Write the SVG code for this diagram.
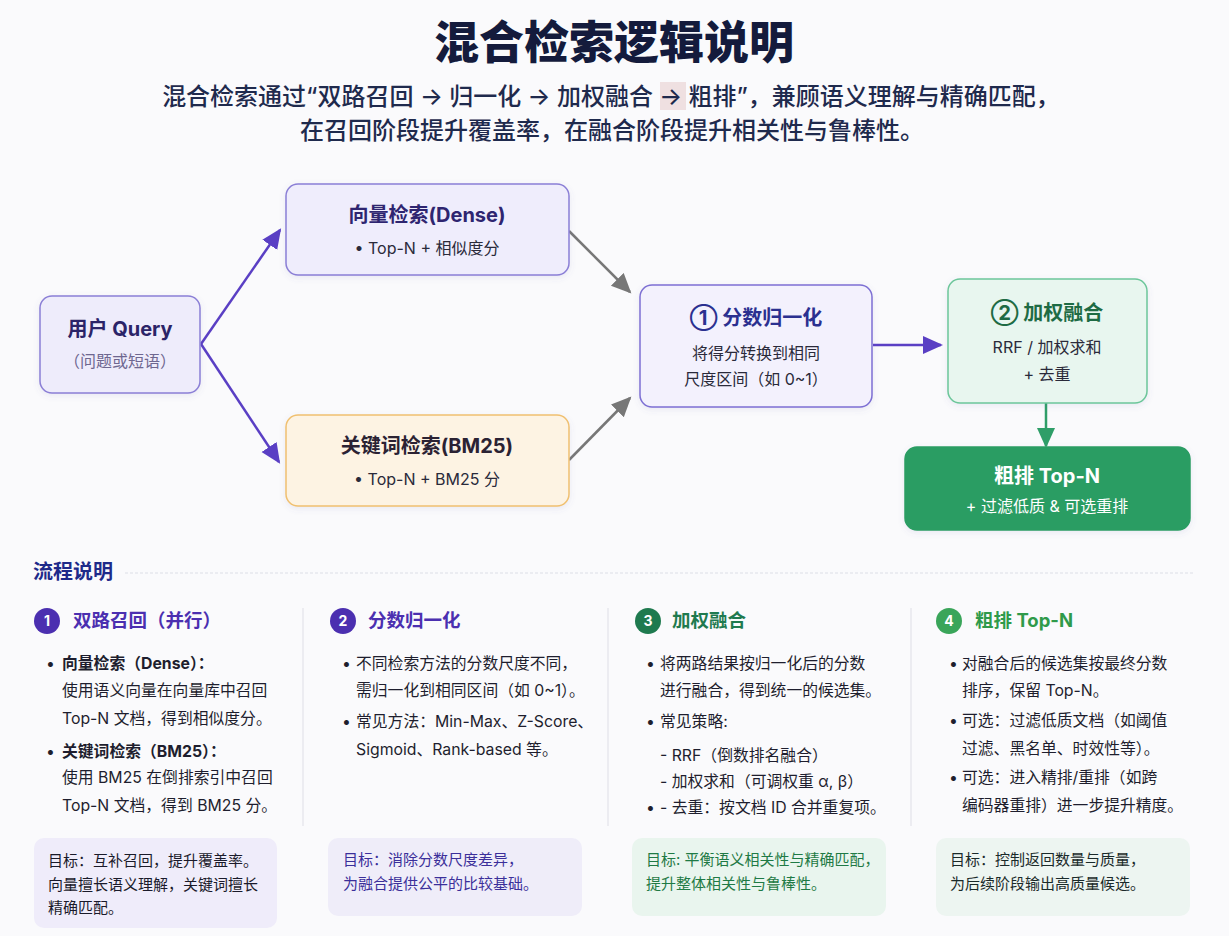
<svg xmlns="http://www.w3.org/2000/svg" width="1229" height="936" viewBox="0 0 1229 936">
<defs>
<style>
text{font-family:Inter,"Noto Sans CJK SC",sans-serif;}
.title{font-size:45px;font-weight:900;fill:#141b3c;}
.sub{font-size:24px;font-weight:500;fill:#1f2a4d;}
.nt{font-size:20px;font-weight:700;}
.nb{font-size:16px;fill:#2a2a3a;}
.sec{font-size:20px;font-weight:700;fill:#1e2a8a;}
.ch{font-size:18.5px;font-weight:700;}
.cn{font-size:14px;font-weight:700;fill:#fff;}
.bt{font-size:15.8px;fill:#1e1e2e;}
.bb{font-weight:700;}
.gt{font-size:15px;}
.node rect{stroke-width:1.5;}
.ar{fill:none;stroke-width:2.5;}
</style>
<filter id="sh" x="-10%" y="-10%" width="120%" height="130%">
<feDropShadow dx="0" dy="2" stdDeviation="3" flood-color="#6a5fb0" flood-opacity="0.12"/>
</filter>
<marker id="mp" markerUnits="userSpaceOnUse" markerWidth="22" markerHeight="20" refX="18" refY="9" orient="auto"><path d="M0,0 L20,9 L0,18 z" fill="#5a3fc4"/></marker>
<marker id="mg" markerUnits="userSpaceOnUse" markerWidth="22" markerHeight="20" refX="18" refY="9" orient="auto"><path d="M0,0 L20,9 L0,18 z" fill="#777"/></marker>
<marker id="mgr" markerUnits="userSpaceOnUse" markerWidth="22" markerHeight="20" refX="18" refY="9" orient="auto"><path d="M0,0 L20,9 L0,18 z" fill="#2f9e68"/></marker>
</defs>
<rect width="1229" height="936" fill="#fafafc"/>

<text class="title" x="614" y="59" text-anchor="middle">混合检索逻辑说明</text>
<rect x="660" y="82" width="26" height="28" fill="#ecdada" opacity="0.8"/>
<text class="sub" x="611" y="105" text-anchor="middle">混合检索通过“双路召回 → 归一化 → 加权融合 → 粗排”，兼顾语义理解与精确匹配，</text>
<text class="sub" x="612" y="139" text-anchor="middle">在召回阶段提升覆盖率，在融合阶段提升相关性与鲁棒性。</text>

<g id="connectors">
<line class="ar" x1="201" y1="344" x2="280" y2="230" stroke="#5a3fc4" marker-end="url(#mp)"/>
<line class="ar" x1="201" y1="344" x2="279" y2="462" stroke="#5a3fc4" marker-end="url(#mp)"/>
<line class="ar" x1="569" y1="231" x2="630" y2="292" stroke="#777" marker-end="url(#mg)"/>
<line class="ar" x1="569" y1="460" x2="630" y2="398" stroke="#777" marker-end="url(#mg)"/>
<line class="ar" x1="873" y1="345" x2="941" y2="345" stroke="#5a3fc4" marker-end="url(#mp)"/>
<line class="ar" x1="1046" y1="403" x2="1046" y2="446" stroke="#2f9e68" marker-end="url(#mgr)"/>
</g>

<g id="query" class="node">
<rect x="40" y="296" width="160" height="97" rx="12" fill="#eeecfb" stroke="#8b7fd6" filter="url(#sh)"/>
<text class="nt" x="120" y="336" text-anchor="middle" fill="#2b2468">用户 Query</text>
<text class="nb" x="120" y="367" text-anchor="middle" style="fill:#6e6790">（问题或短语）</text>
</g>

<g id="dense" class="node">
<rect x="286" y="184" width="283" height="91" rx="12" fill="#efedfc" stroke="#8b7fd6" filter="url(#sh)"/>
<text class="nt" x="427" y="222" text-anchor="middle" fill="#2e2570">向量检索(Dense)</text>
<text class="nb" x="427" y="254" text-anchor="middle">• Top-N + 相似度分</text>
</g>

<g id="bm25" class="node">
<rect x="286" y="415" width="283" height="91" rx="12" fill="#fdf3e3" stroke="#f0c070" filter="url(#sh)"/>
<text class="nt" x="427" y="453" text-anchor="middle" fill="#2b2233">关键词检索(BM25)</text>
<text class="nb" x="427" y="485" text-anchor="middle">• Top-N + BM25 分</text>
</g>

<g id="normalize" class="node">
<rect x="640" y="285" width="232" height="122" rx="12" fill="#f3f1fd" stroke="#7d6fd3" filter="url(#sh)"/>
<text class="nt" x="756" y="325" text-anchor="middle" fill="#2b3090">① 分数归一化</text>
<text class="nb" x="756" y="359" text-anchor="middle">将得分转换到相同</text>
<text class="nb" x="756" y="385" text-anchor="middle">尺度区间（如 0~1）</text>
</g>

<g id="fusion" class="node">
<rect x="948" y="279" width="199" height="124" rx="12" fill="#e8f6ef" stroke="#6cc69a" filter="url(#sh)"/>
<text class="nt" x="1047" y="320" text-anchor="middle" fill="#1e6b44">② 加权融合</text>
<text class="nb" x="1047" y="353" text-anchor="middle">RRF / 加权求和</text>
<text class="nb" x="1047" y="380" text-anchor="middle">+ 去重</text>
</g>

<g id="topn" class="node">
<rect x="905" y="447" width="285" height="83" rx="12" fill="#2a9d63" stroke="#2a9d63" filter="url(#sh)"/>
<text class="nt" x="1047" y="483" text-anchor="middle" fill="#fff">粗排 Top-N</text>
<text class="nb" x="1047" y="512" text-anchor="middle" style="fill:#fff">+ 过滤低质 &amp; 可选重排</text>
</g>

<g id="section-header">
<text class="sec" x="33" y="579">流程说明</text>
<line x1="125" y1="573" x2="1193" y2="573" stroke="#dcdde5" stroke-width="1.2" stroke-dasharray="3 2"/>
<line x1="303" y1="608" x2="303" y2="826" stroke="#e3e3ea" stroke-width="1.2"/>
<line x1="608" y1="608" x2="608" y2="826" stroke="#e3e3ea" stroke-width="1.2"/>
<line x1="911" y1="608" x2="911" y2="826" stroke="#e3e3ea" stroke-width="1.2"/>
</g>

<g id="col1">
<circle cx="47" cy="621" r="13" fill="#4b2fb0"/>
<text class="cn" x="47" y="626" text-anchor="middle">1</text>
<text class="ch" x="73" y="627" fill="#4b2fb0">双路召回（并行）</text>
<text class="bt" x="46" y="669">•</text>
<text class="bt bb" x="62" y="669">向量检索（Dense）：</text>
<text class="bt" x="62" y="696">使用语义向量在向量库中召回</text>
<text class="bt" x="62" y="724">Top-N 文档，得到相似度分。</text>
<text class="bt" x="46" y="757">•</text>
<text class="bt bb" x="62" y="757">关键词检索（BM25）：</text>
<text class="bt" x="62" y="783">使用 BM25 在倒排索引中召回</text>
<text class="bt" x="62" y="811">Top-N 文档，得到 BM25 分。</text>
<rect x="34" y="838" width="243" height="90" rx="10" fill="#efecfa"/>
<text class="gt" x="48" y="866" fill="#1a1a2a">目标：互补召回，提升覆盖率。</text>
<text class="gt" x="48" y="890" fill="#1a1a2a">向量擅长语义理解，关键词擅长</text>
<text class="gt" x="48" y="913" fill="#1a1a2a">精确匹配。</text>
</g>

<g id="col2">
<circle cx="343" cy="621" r="13" fill="#4b2fb0"/>
<text class="cn" x="343" y="626" text-anchor="middle">2</text>
<text class="ch" x="368" y="627" fill="#4b2fb0">分数归一化</text>
<text class="bt" x="342" y="669">•</text>
<text class="bt" x="356" y="669">不同检索方法的分数尺度不同，</text>
<text class="bt" x="356" y="696">需归一化到相同区间（如 0~1）。</text>
<text class="bt" x="342" y="727">•</text>
<text class="bt" x="356" y="727">常见方法：Min-Max、Z-Score、</text>
<text class="bt" x="356" y="755">Sigmoid、Rank-based 等。</text>
<rect x="328" y="838" width="254" height="78" rx="10" fill="#efedf9"/>
<text class="gt" x="343" y="865" fill="#3b2f9a">目标：消除分数尺度差异，</text>
<text class="gt" x="343" y="889" fill="#3b2f9a">为融合提供公平的比较基础。</text>
</g>

<g id="col3">
<circle cx="648" cy="621" r="13" fill="#1f7a4f"/>
<text class="cn" x="648" y="626" text-anchor="middle">3</text>
<text class="ch" x="672" y="627" fill="#1f7a4f">加权融合</text>
<text class="bt" x="646" y="669">•</text>
<text class="bt" x="660" y="669">将两路结果按归一化后的分数</text>
<text class="bt" x="660" y="696">进行融合，得到统一的候选集。</text>
<text class="bt" x="646" y="727">•</text>
<text class="bt" x="660" y="727">常见策略:</text>
<text class="bt" x="660" y="761">- RRF（倒数排名融合）</text>
<text class="bt" x="660" y="787">- 加权求和（可调权重 α, β）</text>
<text class="bt" x="646" y="813">•</text>
<text class="bt" x="660" y="813">- 去重：按文档 ID 合并重复项。</text>
<rect x="632" y="838" width="254" height="78" rx="10" fill="#e9f5ee"/>
<text class="gt" x="646" y="865" fill="#1f7a45">目标: 平衡语义相关性与精确匹配，</text>
<text class="gt" x="646" y="889" fill="#1f7a45">提升整体相关性与鲁棒性。</text>
</g>

<g id="col4">
<circle cx="949" cy="621" r="13" fill="#3aa55a"/>
<text class="cn" x="949" y="626" text-anchor="middle">4</text>
<text class="ch" x="975" y="627" fill="#2f9a4a">粗排 Top-N</text>
<text class="bt" x="949" y="669">•</text>
<text class="bt" x="962" y="669">对融合后的候选集按最终分数</text>
<text class="bt" x="962" y="696">排序，保留 Top-N。</text>
<text class="bt" x="949" y="726">•</text>
<text class="bt" x="962" y="726">可选：过滤低质文档（如阈值</text>
<text class="bt" x="962" y="754">过滤、黑名单、时效性等）。</text>
<text class="bt" x="949" y="783">•</text>
<text class="bt" x="962" y="783">可选：进入精排/重排（如跨</text>
<text class="bt" x="962" y="811">编码器重排）进一步提升精度。</text>
<rect x="936" y="838" width="254" height="78" rx="10" fill="#edf5f1"/>
<text class="gt" x="950" y="865" fill="#1a2a2a">目标：控制返回数量与质量，</text>
<text class="gt" x="950" y="889" fill="#1a2a2a">为后续阶段输出高质量候选。</text>
</g>
</svg>
